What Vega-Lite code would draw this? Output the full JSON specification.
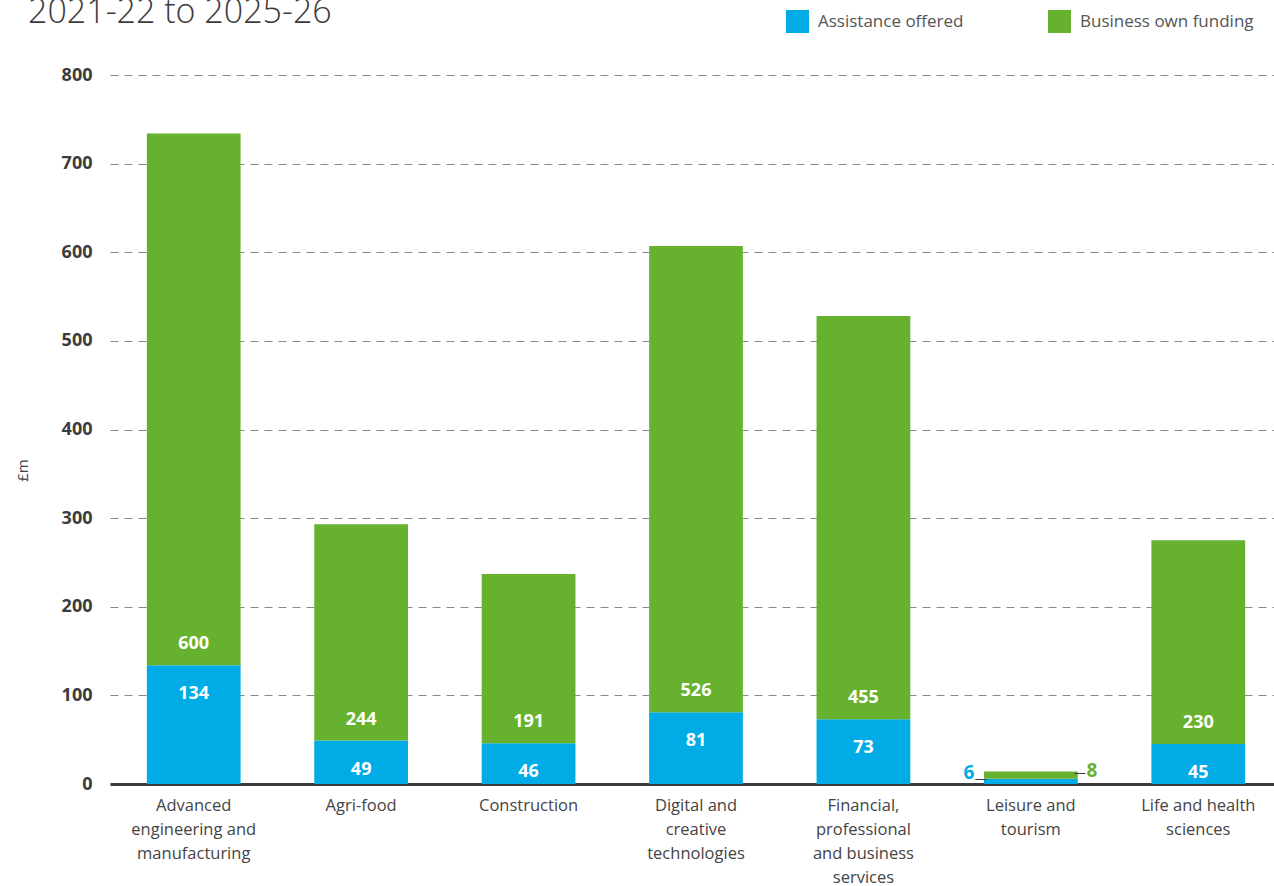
{
  "$schema": "https://vega.github.io/schema/vega-lite/v6.json",
  "width": 1172,
  "height": 709,
  "autosize": {"type": "none"},
  "padding": {"left": 110, "top": 75, "right": 0, "bottom": 102},
  "background": "white",
  "title": {
    "text": "2021-22 to 2025-26",
    "anchor": "start",
    "frame": "group",
    "orient": "top",
    "baseline": "alphabetic",
    "dx": -82,
    "offset": 0,
    "dy": 47,
    "fontSize": 34,
    "font": "Open Sans",
    "fontWeight": 300,
    "color": "#3c3c3c"
  },
  "data": {
    "values": [
      {"sector": "Advanced engineering and manufacturing", "Assistance offered": 134, "Business own funding": 600},
      {"sector": "Agri-food", "Assistance offered": 49, "Business own funding": 244},
      {"sector": "Construction", "Assistance offered": 46, "Business own funding": 191},
      {"sector": "Digital and creative technologies", "Assistance offered": 81, "Business own funding": 526},
      {"sector": "Financial, professional and business services", "Assistance offered": 73, "Business own funding": 455},
      {"sector": "Leisure and tourism", "Assistance offered": 6, "Business own funding": 8},
      {"sector": "Life and health sciences", "Assistance offered": 45, "Business own funding": 230}
    ]
  },
  "config": {
    "view": {"stroke": null},
    "font": "Open Sans"
  },
  "encoding": {
    "x": {
      "field": "sector",
      "type": "nominal",
      "sort": null,
      "scale": {"paddingInner": 0.44, "paddingOuter": 0.22},
      "axis": {
        "title": null,
        "labelAngle": 0,
        "ticks": false,
        "labelPadding": 13,
        "labelFontSize": 16.5,
        "labelColor": "#444444",
        "labelLineHeight": 24,
        "labelFont": "Open Sans",
        "labelLimit": 300,
        "domainColor": "#3c3c3c",
        "domainWidth": 3,
        "labelExpr": "datum.label == 'Advanced engineering and manufacturing' ? ['Advanced', 'engineering and', 'manufacturing'] : datum.label == 'Digital and creative technologies' ? ['Digital and', 'creative', 'technologies'] : datum.label == 'Financial, professional and business services' ? ['Financial,', 'professional', 'and business', 'services'] : datum.label == 'Leisure and tourism' ? ['Leisure and', 'tourism'] : datum.label == 'Life and health sciences' ? ['Life and health', 'sciences'] : datum.label"
      }
    }
  },
  "layer": [
    {
      "transform": [{"fold": ["Assistance offered", "Business own funding"], "as": ["type", "value"]}],
      "mark": {"type": "bar"},
      "encoding": {
        "y": {
          "field": "value",
          "type": "quantitative",
          "stack": "zero",
          "scale": {"domain": [0, 800]},
          "axis": {
            "values": [0, 100, 200, 300, 400, 500, 600, 700, 800],
            "title": "£m",
            "titleFontSize": 15,
            "titleFontWeight": "normal",
            "titleColor": "#444444",
            "titleX": -88,
            "titleY": 395,
            "titleAngle": 270,
            "titleAlign": "center",
            "titleBaseline": "middle",
            "domain": false,
            "ticks": false,
            "labelPadding": 18,
            "labelFontSize": 18,
            "labelFontWeight": "bold",
            "labelColor": "#3c3c3c",
            "grid": true,
            "gridColor": "#8a8a8a",
            "gridDash": [8, 6],
            "gridWidth": 1
          }
        },
        "color": {
          "field": "type",
          "type": "nominal",
          "scale": {"domain": ["Assistance offered", "Business own funding"], "range": ["#00abe6", "#66b22e"]},
          "legend": {
            "title": null,
            "orient": "none",
            "direction": "horizontal",
            "legendX": 676,
            "legendY": -65,
            "symbolType": "square",
            "symbolSize": 529,
            "symbolStrokeWidth": 0,
            "symbolOpacity": 1,
            "labelFontSize": 17,
            "labelColor": "#555555",
            "labelOffset": 9,
            "columnPadding": 84,
            "labelLimit": 300
          }
        },
        "order": {"field": "type", "sort": "ascending"}
      }
    },
    {
      "transform": [{"filter": "datum.sector != 'Leisure and tourism'"}],
      "mark": {"type": "text", "color": "white", "fontSize": 18, "fontWeight": "bold", "baseline": "middle", "dy": 29},
      "encoding": {
        "y": {"field": "Assistance offered", "type": "quantitative"},
        "text": {"field": "Assistance offered", "type": "quantitative"}
      }
    },
    {
      "transform": [{"filter": "datum.sector != 'Leisure and tourism'"}],
      "mark": {"type": "text", "color": "white", "fontSize": 18, "fontWeight": "bold", "baseline": "middle", "dy": -21},
      "encoding": {
        "y": {"field": "Assistance offered", "type": "quantitative"},
        "text": {"field": "Business own funding", "type": "quantitative"}
      }
    },
    {
      "transform": [{"filter": "datum.sector == 'Leisure and tourism'"}],
      "mark": {"type": "text", "color": "#00abe6", "fontSize": 19, "fontWeight": "bold", "baseline": "middle", "dx": -62, "dy": -6},
      "encoding": {
        "y": {"field": "Assistance offered", "type": "quantitative"},
        "text": {"field": "Assistance offered", "type": "quantitative"}
      }
    },
    {
      "transform": [{"filter": "datum.sector == 'Leisure and tourism'"}],
      "mark": {"type": "text", "color": "#66b22e", "fontSize": 19, "fontWeight": "bold", "baseline": "middle", "dx": 61, "dy": -8},
      "encoding": {
        "y": {"field": "Assistance offered", "type": "quantitative"},
        "text": {"field": "Business own funding", "type": "quantitative"}
      }
    },
    {
      "transform": [{"filter": "datum.sector == 'Leisure and tourism'"}],
      "mark": {"type": "text", "text": "—", "color": "#3c3c3c", "fontSize": 12, "baseline": "middle", "dx": -50, "dy": 0},
      "encoding": {
        "y": {"field": "Assistance offered", "type": "quantitative"}
      }
    },
    {
      "transform": [{"filter": "datum.sector == 'Leisure and tourism'"}],
      "mark": {"type": "text", "text": "—", "color": "#3c3c3c", "fontSize": 12, "baseline": "middle", "dx": 49, "dy": -6},
      "encoding": {
        "y": {"field": "Assistance offered", "type": "quantitative"}
      }
    }
  ]
}
